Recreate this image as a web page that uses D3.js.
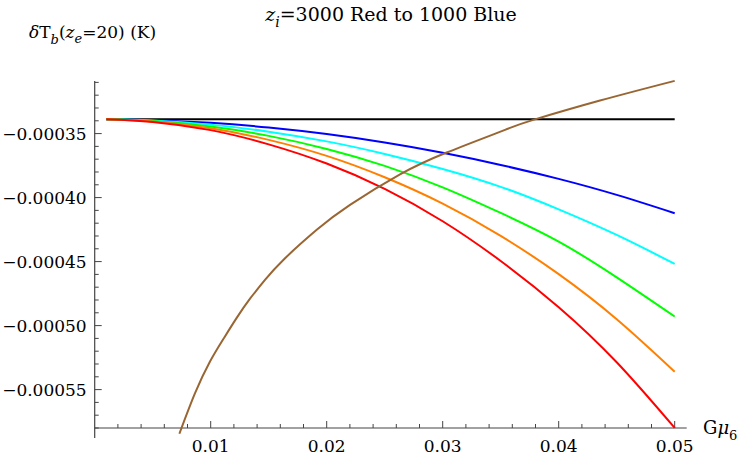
<!DOCTYPE html>
<html>
<head>
<meta charset="utf-8">
<script src="https://cdn.jsdelivr.net/npm/d3@7"></script>
<style>
  body { margin: 0; background: #fff; }
</style>
</head>
<body>
<svg width="738" height="456"></svg>
<script>
// G mu values where the coloured curves were sampled
var muGrid = [0.001, 0.005, 0.01, 0.015, 0.02, 0.025, 0.03, 0.035, 0.04, 0.045, 0.05];

// z_i = 3000 (red) ... 1000 (blue)
var redVals    = [-0.0003388, -0.0003409, -0.0003473, -0.0003584, -0.0003734, -0.0003932, -0.0004185, -0.0004495, -0.0004856, -0.0005286, -0.0005799];
var orangeVals = [-0.0003388, -0.0003405, -0.0003458, -0.0003549, -0.0003674, -0.0003841, -0.0004047, -0.0004299, -0.0004598, -0.000495, -0.000536];
var greenVals  = [-0.0003388, -0.0003402, -0.0003445, -0.0003518, -0.000362, -0.0003752, -0.000392, -0.000412, -0.0004344, -0.0004623, -0.0004929];
var cyanVals   = [-0.0003388, -0.0003397, -0.000343, -0.0003485, -0.0003561, -0.0003659, -0.0003776, -0.0003916, -0.0004092, -0.0004292, -0.0004518];
var blueVals   = [-0.0003388, -0.0003395, -0.0003416, -0.0003453, -0.0003504, -0.000357, -0.000365, -0.0003745, -0.0003854, -0.0003979, -0.0004122];
var blackVals  = [-0.0003388, -0.0003388, -0.0003388, -0.0003388, -0.0003388, -0.0003388, -0.0003388, -0.0003388, -0.0003388, -0.0003388, -0.0003388];

// brown curve has its own sampling (steep near the bottom)
var brownMu   = [0.0073, 0.00865, 0.00994, 0.01109, 0.01224, 0.01339, 0.01468, 0.01626, 0.01914, 0.02201, 0.02632, 0.03034, 0.03537, 0.03781, 0.04356, 0.05];
var brownVals = [-0.0005845, -0.0005528, -0.0005281, -0.0005105, -0.000494, -0.000479, -0.0004643, -0.0004487, -0.0004252, -0.0004057, -0.0003819, -0.0003648, -0.0003471, -0.0003393, -0.0003242, -0.0003088];

var xMajor = [0.01, 0.02, 0.03, 0.04, 0.05];
var yMajor = [-0.00035, -0.0004, -0.00045, -0.0005, -0.00055];
var yLabels = ["\u22120.00035", "\u22120.00040", "\u22120.00045", "\u22120.00050", "\u22120.00055"];

var serif = "'DejaVu Serif', serif";
var svg = d3.select("svg").attr("font-family", serif);

var x = d3.scaleLinear().domain([0, 0.05]).range([94.7, 674.7]);
var y = d3.scaleLinear().domain([-0.00058, -0.000309]).range([428, 81.1]);

var axisColor = "#444";

// minor ticks
var xMinor = d3.range(1, 26).map(function (i) { return i * 0.002; });
var yMinor = d3.range(31, 59).map(function (i) { return -i * 0.00001; });

var ticks = svg.append("g").attr("stroke", axisColor).attr("stroke-width", 1);

ticks.selectAll(".xt")
  .data(xMinor)
  .enter().append("line")
  .attr("x1", function (d) { return x(d); })
  .attr("x2", function (d) { return x(d); })
  .attr("y1", y.range()[0])
  .attr("y2", function (d, i) { return y.range()[0] - ((i + 1) % 5 === 0 ? 7 : 4); });

ticks.selectAll(".yt")
  .data(yMinor)
  .enter().append("line")
  .attr("y1", function (d) { return y(d); })
  .attr("y2", function (d) { return y(d); })
  .attr("x1", x(0))
  .attr("x2", function (d, i) { return x(0) + ((i + 31) % 5 === 0 ? 7 : 4); });

// axis lines
svg.append("line")
  .attr("x1", x(0)).attr("x2", x(0.05) + 12)
  .attr("y1", y.range()[0]).attr("y2", y.range()[0])
  .attr("stroke", axisColor).attr("stroke-width", 1.2);

svg.append("line")
  .attr("x1", x(0)).attr("x2", x(0))
  .attr("y1", y.range()[1]).attr("y2", y.range()[0] + 10)
  .attr("stroke", axisColor).attr("stroke-width", 1.2);

// tick labels
svg.append("g").selectAll("text")
  .data(xMajor)
  .enter().append("text")
  .attr("x", function (d) { return x(d); })
  .attr("y", 452)
  .attr("text-anchor", "middle")
  .attr("font-size", 17)
  .text(function (d) { return d3.format(".2f")(d); });

svg.append("g").selectAll("text")
  .data(yMajor)
  .enter().append("text")
  .attr("x", x(0) - 8)
  .attr("y", function (d) { return y(d) + 6; })
  .attr("text-anchor", "end")
  .attr("font-size", 17)
  .text(function (d, i) { return yLabels[i]; });

// curves
var line = d3.line()
  .x(function (d) { return x(d[0]); })
  .y(function (d) { return y(d[1]); })
  .curve(d3.curveNatural);

var series = [
  { vals: blackVals, mu: muGrid, color: "#000000" },
  { vals: blueVals, mu: muGrid, color: "#0000ff" },
  { vals: cyanVals, mu: muGrid, color: "#00ffff" },
  { vals: greenVals, mu: muGrid, color: "#00ff00" },
  { vals: orangeVals, mu: muGrid, color: "#ff8000" },
  { vals: redVals, mu: muGrid, color: "#ff0000" },
  { vals: brownVals, mu: brownMu, color: "#996633" }
];

svg.append("g").selectAll("path")
  .data(series)
  .enter().append("path")
  .attr("fill", "none")
  .attr("stroke", function (d) { return d.color; })
  .attr("stroke-width", 2)
  .attr("d", function (d) {
    return line(d.mu.map(function (m, i) { return [m, d.vals[i]]; }));
  });

// title
var title = svg.append("text")
  .attr("x", 391)
  .attr("y", 21)
  .attr("text-anchor", "middle")
  .attr("font-size", 19);
title.append("tspan").attr("font-style", "italic").text("z");
title.append("tspan").attr("font-style", "italic").attr("font-size", 14).attr("dy", 6).text("i");
title.append("tspan").attr("dy", -6).text("=3000 Red to 1000 Blue");

// y label
var ylab = svg.append("text")
  .attr("x", 29)
  .attr("y", 38)
  .attr("font-size", 17);
ylab.append("tspan").attr("font-style", "italic").text("\u03b4");
ylab.append("tspan").text("T");
ylab.append("tspan").attr("font-style", "italic").attr("font-size", 13).attr("dy", 6).text("b");
ylab.append("tspan").attr("dy", -6).text("(");
ylab.append("tspan").attr("font-style", "italic").text("z");
ylab.append("tspan").attr("font-style", "italic").attr("font-size", 13).attr("dy", 5).text("e");
ylab.append("tspan").attr("dy", -5).text("=20) (K)");

// x label
var xlab = svg.append("text")
  .attr("x", 703)
  .attr("y", 434)
  .attr("font-size", 18);
xlab.append("tspan").text("G");
xlab.append("tspan").attr("font-style", "italic").text("\u03bc");
xlab.append("tspan").attr("font-size", 13).attr("dy", 6).text("6");
</script>
</body>
</html>
